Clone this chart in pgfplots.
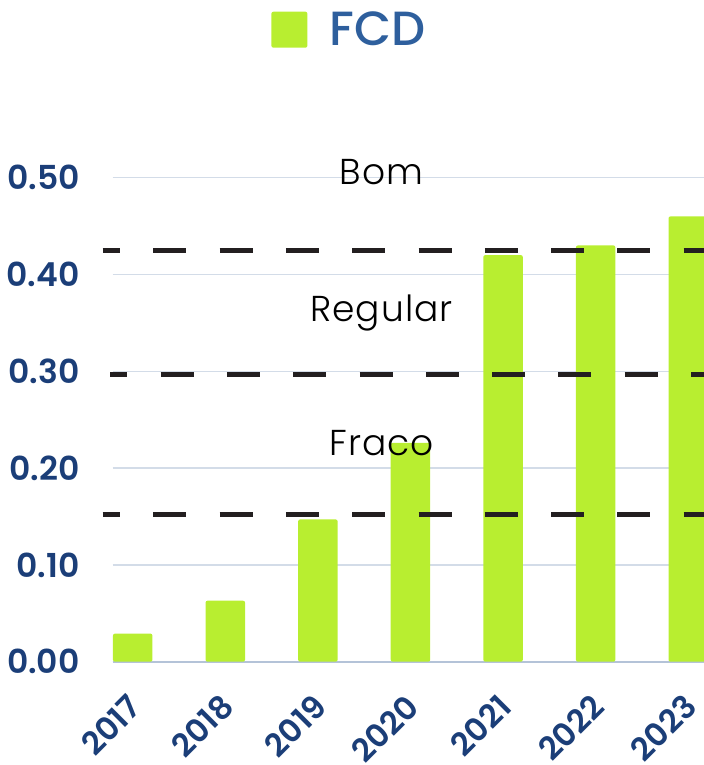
\documentclass[border=0pt]{standalone}
\usepackage{fontspec}
\setmainfont{Poppins}
\newfontfamily\popsemi{Poppins SemiBold}
\newfontfamily\popsemip[Numbers=Proportional]{Poppins SemiBold}
\newfontfamily\popmed{Poppins Medium}
\newfontfamily\poplight[LetterSpace=3]{Poppins Light}
\usepackage{pgfplots}
\pgfplotsset{compat=1.18}
\definecolor{barg}{HTML}{B8EE30}
\definecolor{tickb}{HTML}{1B3E78}
\definecolor{legb}{HTML}{2E5F9D}
\definecolor{gridc}{HTML}{D3DCE8}
\definecolor{basec}{HTML}{B4C3D8}
\definecolor{dashc}{HTML}{231F20}
\begin{document}
\begin{tikzpicture}
\path[use as bounding box] (0,0) rectangle (352pt,382.5pt);
\begin{axis}[
  at={(56.35pt,51.65pt)}, anchor=south west,
  scale only axis, width=295.65pt, height=251.7pt,
  xmin=-0.216, xmax=6.17, ymin=0, ymax=0.52,
  clip=false,
  separate axis lines,
  axis x line*=bottom, axis y line*=left,
  x axis line style={draw=basec, line width=1pt, -},
  y axis line style={draw=none},
  ytick={0,0.1,0.2,0.3,0.4,0.5},
  yticklabels={0.00,0.10,0.20,0.30,0.40,0.50},
  ymajorgrids, grid style={draw=gridc, line width=0.75pt},
  major tick length=0pt,
  yticklabel style={font=\popsemi\fontsize{16.5}{16.5}\selectfont, text=tickb, anchor=east, inner sep=0pt, xshift=-16.35pt},
  xtick={0,1,2,3,4,5,6},
  xticklabels={2017,2018,2019,2020,2021,2022,2023},
  xticklabel style={font=\popsemip\fontsize{16}{16}\selectfont, text=tickb, inner sep=0pt, xshift=1.2pt, yshift=-19.5pt, rotate=45, anchor=east},
  legend style={draw=none, fill=none, inner sep=0pt, at={(0.2677,1.2555)}, anchor=west,
    font=\popmed\fontsize{24}{24}\selectfont, text=legb,
    nodes={inner sep=0pt}, /tikz/every odd column/.style={column sep=11pt}},
  legend image code/.code={\fill[barg] (0pt,-9pt) rectangle (18pt,9pt);},
]
\addplot[ybar, bar width=19.75pt, fill=barg, draw=none, rounded corners=1pt] coordinates {
 (0,0.029) (1,0.063) (2,0.147) (3,0.226) (4,0.420) (5,0.430) (6,0.460)};
\addlegendentry{FCD}
\addplot[sharp plot, dashc, line width=2.65pt, dash pattern=on 16.5pt off 16.65pt, dash phase=7.85pt, forget plot] coordinates {(-0.324,0.4247) (6.3,0.4247)};
\addplot[sharp plot, dashc, line width=2.65pt, dash pattern=on 16.5pt off 16.65pt, dash phase=7.85pt, forget plot] coordinates {(-0.245,0.2966) (6.3,0.2966)};
\addplot[sharp plot, dashc, line width=2.65pt, dash pattern=on 16.5pt off 16.65pt, dash phase=7.85pt, forget plot] coordinates {(-0.324,0.1523) (6.3,0.1523)};
\node[font=\poplight\fontsize{18}{18}\selectfont, anchor=base] at (axis cs:2.687,0.4932) {Bom};
\node[font=\poplight\fontsize{18}{18}\selectfont, anchor=base] at (axis cs:2.687,0.3512) {Regular};
\node[font=\poplight\fontsize{18}{18}\selectfont, anchor=base] at (axis cs:2.687,0.2135) {Fraco};
\end{axis}
\end{tikzpicture}
\end{document}
